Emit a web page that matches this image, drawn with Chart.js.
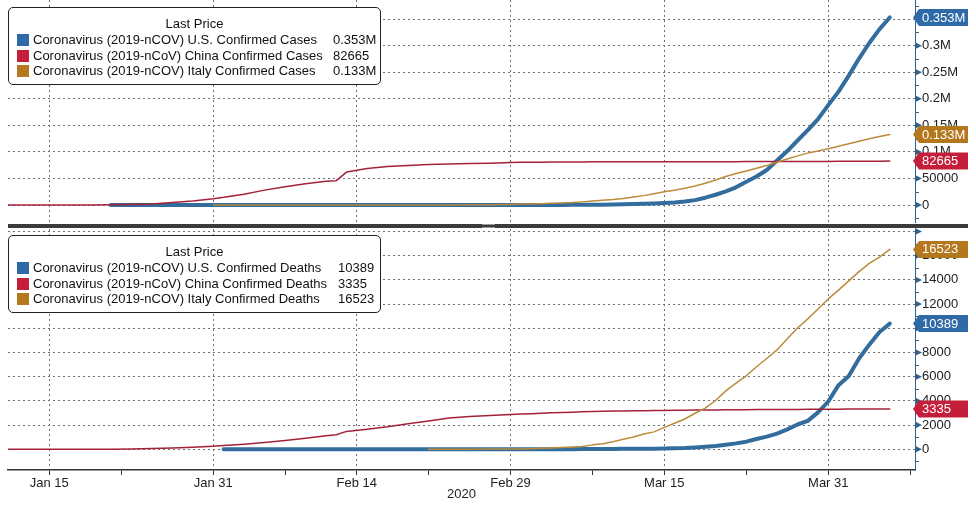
<!DOCTYPE html>
<html>
<head>
<meta charset="utf-8">
<title>Coronavirus confirmed cases and deaths</title>
<script src="https://cdn.jsdelivr.net/npm/chart.js@4.4.1/dist/chart.umd.min.js"></script>
<style>
body { margin: 0; background: #fff; }
#wrap { position: relative; width: 976px; height: 507px; overflow: hidden; font-family: "Liberation Sans", Arial, sans-serif; color: #111; }
#wrap canvas { position: absolute; left: 0; }
#casesChart { top: 0; }
#deathsChart { top: 228px; }
.divider { position: absolute; left: 8px; top: 224px; width: 960px; height: 4px; background: #3a3a3a; }
.grip { position: absolute; left: 482px; top: 224px; width: 13px; height: 4px; border-top: 1px solid #9a9a9a; border-bottom: 1px solid #9a9a9a; box-sizing: border-box; }
.legend { position: absolute; left: 8px; width: 371px; height: 76px; border: 1px solid #222; border-radius: 5px; background: #fff; font-size: 13px; }
.legend .ttl, .legend .row { position: absolute; left: 0; right: 0; height: 16px; line-height: 16px; white-space: nowrap; }
.legend .ttl { top: 8px; text-align: center; }
.legend .sw { position: absolute; left: 8px; top: 2px; width: 12px; height: 12px; }
.legend .nm { position: absolute; left: 24px; }
.legend .val { position: absolute; }
</style>
</head>
<body>
<div id="wrap">
  <canvas id="casesChart" width="976" height="224"></canvas>
  <div class="divider"></div>
  <div class="grip"></div>
  <canvas id="deathsChart" width="976" height="279"></canvas>
  <div class="legend" id="casesLegend" style="top:7px"></div>
  <div class="legend" id="deathsLegend" style="top:235px"></div>
</div>
<script>
// fechas 2020 (MM-DD) y valores
const dates = ['01-11','01-13','01-15','01-17','01-19','01-21','01-23','01-25','01-27','01-29',
  '01-31','02-01','02-03','02-05','02-07','02-09','02-11','02-12','02-13','02-15',
  '02-17','02-19','02-21','02-23','02-25','02-27','02-29',
  '03-01','03-02','03-03','03-04','03-05','03-06','03-07','03-08','03-09','03-10',
  '03-11','03-12','03-13','03-14','03-15','03-16','03-17','03-18','03-19','03-20',
  '03-21','03-22','03-23','03-24','03-25','03-26','03-27','03-28','03-29','03-30','03-31',
  '04-01','04-02','04-03','04-04','04-05','04-06'];

const usCases = [null,null,null,null,null,1,1,2,5,5,
  7,8,11,12,12,12,13,13,15,15,
  15,15,35,35,53,60,68,
  75,100,122,153,221,319,435,541,704,994,
  1301,1697,2247,2943,3680,4663,6411,9197,13779,19285,
  25500,33200,43800,53700,65800,83800,101600,121400,140800,161800,188100,
  213400,243500,275600,305000,331000,353000];
const chinaCases = [41,41,41,45,200,440,830,1975,4515,7711,
  11791,14380,20438,28018,34546,40171,44653,45800,62000,68500,
  72436,74576,76288,77150,78064,78824,79824,
  80400,80550,80700,80850,81000,81100,81150,81200,81220,81250,
  81270,81290,81300,81320,81340,81360,81380,81410,81450,81490,
  81540,81580,81660,81710,81780,81840,81900,81950,82000,82060,82100,
  82200,82300,82400,82500,82580,82665];
const italyCases = [null,null,null,null,null,null,null,null,null,null,
  2,2,2,2,3,3,3,3,3,3,
  3,3,20,155,322,650,1128,
  1694,2036,2502,3089,3858,4636,5883,7375,9172,10149,
  12462,15113,17660,21157,24747,27980,31506,35713,41035,47021,
  53578,59138,63927,69176,74386,80589,86498,92472,97689,101739,105792,
  110574,115242,119827,124632,128948,132547];

const usDeaths = [null,null,null,null,null,null,null,null,null,null,
  null,0,0,0,0,0,0,0,0,0,
  0,0,0,0,0,0,1,
  1,6,9,11,12,14,17,21,22,28,
  36,40,47,54,63,85,108,150,210,280,
  380,490,630,850,1050,1300,1650,2050,2350,3050,3950,
  5300,6050,7500,8650,9700,10389];
const chinaDeaths = [1,1,2,2,3,9,25,56,106,170,
  259,304,425,563,722,908,1113,1200,1480,1665,
  1868,2118,2345,2592,2715,2788,2870,
  2912,2943,2981,3012,3042,3070,3097,3119,3136,3158,
  3169,3176,3189,3199,3213,3226,3237,3245,3249,3253,
  3259,3274,3274,3281,3285,3291,3296,3299,3304,3308,3312,
  3318,3322,3326,3330,3333,3335];
const italyDeaths = [null,null,null,null,null,null,null,null,null,null,
  null,null,null,null,null,null,null,null,null,null,
  null,null,1,3,10,17,29,
  34,52,79,107,148,197,233,366,463,631,
  827,1016,1266,1441,1809,2158,2503,2978,3405,4032,
  4825,5476,6077,6820,7503,8215,9134,10023,10779,11591,12428,
  13155,13915,14681,15362,15887,16523];

const caseNames = ['Coronavirus (2019-nCOV) U.S. Confirmed Cases',
  'Coronavirus (2019-nCoV) China Confirmed Cases',
  'Coronavirus (2019-nCOV) Italy Confirmed Cases'];
const deathNames = ['Coronavirus (2019-nCOV) U.S. Confirmed Deaths',
  'Coronavirus (2019-nCoV) China Confirmed Deaths',
  'Coronavirus (2019-nCOV) Italy Confirmed Deaths'];

const caseTicks = [0, 50000, 100000, 150000, 200000, 250000, 300000, 350000];
const caseTickLabels = ['0', '50000', '0.1M', '0.15M', '0.2M', '0.25M', '0.3M', '0.35M'];
const deathTicks = [0, 2000, 4000, 6000, 8000, 10000, 12000, 14000, 16000, 18000];
const deathTickLabels = ['0', '2000', '4000', '6000', '8000', '10000', '12000', '14000', '16000', ''];

const xTickDates = ['01-15', '01-31', '02-14', '02-29', '03-15', '03-31'];
const xTickLabels = ['Jan 15', 'Jan 31', 'Feb 14', 'Feb 29', 'Mar 15', 'Mar 31'];
const xMinorDates = ['01-22', '02-07', '02-21', '03-08', '03-23', '04-08'];

// colores
const tagColors = ['#2f6aa8', '#c41e3a', '#b5771c'];
const lineColors = ['#336d9e', '#a3223a', '#bb8b3a'];
const lineWidths = [4, 1.5, 1.5];
const axisColor = '#31628c';
const gridColor = '#707070';
const FONT = 'Liberation Sans';

function dayOf(s) {
    const [m, d] = s.split('-').map(Number);
    return (Date.UTC(2020, m - 1, d) - Date.UTC(2020, 0, 15)) / 864e5;
}
const xs = dates.map(dayOf);

function toPoints(vals) {
    return vals.map((v, i) => ({ x: xs[i], y: v })).filter(p => p.y !== null);
}

function fmtVal(v) {
    return v >= 100000 ? (v / 1e6).toFixed(3) + 'M' : String(v);
}

// eje derecho: linea, triangulos, marcas menores y etiquetas de ultimo valor
const axisDecor = {
    id: 'axisDecor',
    afterDraw(chart) {
        const { ctx, chartArea: a } = chart;
        const y = chart.scales.y;
        const step = y.ticks[1].value - y.ticks[0].value;
        ctx.save();
        ctx.strokeStyle = axisColor;
        ctx.fillStyle = axisColor;
        ctx.lineWidth = 1;
        ctx.beginPath();
        ctx.moveTo(a.right + 0.5, a.top);
        ctx.lineTo(a.right + 0.5, a.bottom + 1);
        ctx.stroke();
        const minors = [y.ticks[0].value - step / 2];
        y.ticks.forEach(t => {
            const py = y.getPixelForValue(t.value);
            ctx.beginPath();
            ctx.moveTo(a.right, py - 3.5);
            ctx.lineTo(a.right + 7, py);
            ctx.lineTo(a.right, py + 3.5);
            ctx.closePath();
            ctx.fill();
            minors.push(t.value + step / 2);
        });
        minors.forEach(v => {
            const py = Math.round(y.getPixelForValue(v)) + 0.5;
            if (py < a.top || py > a.bottom) return;
            ctx.beginPath();
            ctx.moveTo(a.right, py);
            ctx.lineTo(a.right + 4, py);
            ctx.stroke();
        });

        ctx.font = '13px "' + FONT + '"';
        ctx.textBaseline = 'middle';
        ctx.textAlign = 'left';
        chart.data.datasets.forEach(ds => {
            const last = ds.data[ds.data.length - 1].y;
            const py = y.getPixelForValue(last);
            const h = 8.5;
            ctx.fillStyle = ds.tagColor;
            ctx.beginPath();
            ctx.moveTo(a.right - 2, py);
            ctx.lineTo(a.right + 4, py - h);
            ctx.lineTo(a.right + 53, py - h);
            ctx.lineTo(a.right + 53, py + h);
            ctx.lineTo(a.right + 4, py + h);
            ctx.closePath();
            ctx.fill();
            ctx.fillStyle = '#fff';
            ctx.fillText(fmtVal(last), a.right + 7, py + 0.5);
        });
        ctx.restore();
    }
};

function drawPanel(canvasId, series, yMin, yMax, ticks, tickLabels, showX) {
    const datasets = series.map((vals, i) => ({
        data: toPoints(vals),
        borderColor: lineColors[i],
        borderWidth: lineWidths[i],
        tagColor: tagColors[i],
        pointRadius: 0,
        tension: 0,
        order: 3 - i,
        borderJoinStyle: 'round',
        borderCapStyle: 'round'
    }));

    return new Chart(document.getElementById(canvasId), {
        type: 'line',
        data: { datasets: datasets },
        options: {
            responsive: false,
            animation: false,
            devicePixelRatio: 1,
            layout: { padding: { left: 8, right: 0, top: showX ? 1 : 0, bottom: 0 } },
            plugins: { legend: { display: false }, tooltip: { enabled: false } },
            scales: {
                x: {
                    type: 'linear',
                    min: -4.03,
                    max: 84.46,
                    afterBuildTicks: s => {
                        s.ticks = xTickDates.map((d, i) => ({ value: dayOf(d), major: true, text: xTickLabels[i] }))
                            .concat(xMinorDates.map(d => ({ value: dayOf(d), major: false, text: '' })));
                    },
                    afterFit: s => {
                        s.height = showX ? 37 : 2;
                        s.paddingLeft = 0;
                        s.paddingRight = 0;
                    },
                    grid: {
                        color: c => (c.tick && c.tick.major) ? gridColor : 'rgba(0,0,0,0)',
                        lineWidth: 1,
                        drawTicks: showX,
                        tickLength: 5,
                        tickColor: '#333',
                        tickWidth: 1
                    },
                    border: { display: showX, color: '#333', width: 1.5, dash: [2, 3] },
                    ticks: {
                        display: showX,
                        autoSkip: false,
                        maxRotation: 0,
                        padding: 1,
                        color: '#222',
                        font: { family: FONT, size: 13 },
                        callback: (v, i, t) => t[i].text || ''
                    },
                    title: {
                        display: showX,
                        text: '2020',
                        color: '#222',
                        font: { family: FONT, size: 13 },
                        padding: { top: 0, bottom: 5 }
                    }
                },
                y: {
                    position: 'right',
                    min: yMin,
                    max: yMax,
                    afterBuildTicks: s => {
                        s.ticks = ticks.map((v, i) => ({ value: v, text: tickLabels[i] }));
                    },
                    afterFit: s => {
                        s.width = 61;
                        s.paddingTop = 0;
                        s.paddingBottom = 0;
                    },
                    grid: { color: gridColor, lineWidth: 1, drawTicks: false },
                    border: { display: false, dash: [2, 3] },
                    ticks: {
                        autoSkip: false,
                        padding: 7,
                        color: '#222',
                        font: { family: FONT, size: 13 },
                        callback: (v, i, t) => t[i].text
                    }
                }
            }
        },
        plugins: [axisDecor]
    });
}

function buildLegend(id, names, series, valueLeft) {
    const rowTops = [24, 39.7, 55.4];
    let html = '<div class="ttl">Last Price</div>';
    names.forEach((n, i) => {
        const vals = series[i];
        html += '<div class="row" style="top:' + rowTops[i] + 'px">' +
            '<span class="sw" style="background:' + tagColors[i] + '"></span>' +
            '<span class="nm">' + n + '</span>' +
            '<span class="val" style="left:' + valueLeft + 'px">' + fmtVal(vals[vals.length - 1]) + '</span></div>';
    });
    document.getElementById(id).innerHTML = html;
}

drawPanel('casesChart', [usCases, chinaCases, italyCases], -32000, 385900, caseTicks, caseTickLabels, false);
drawPanel('deathsChart', [usDeaths, chinaDeaths, italyDeaths], -1711, 18207, deathTicks, deathTickLabels, true);
buildLegend('casesLegend', caseNames, [usCases, chinaCases, italyCases], 324);
buildLegend('deathsLegend', deathNames, [usDeaths, chinaDeaths, italyDeaths], 329);
</script>
</body>
</html>
